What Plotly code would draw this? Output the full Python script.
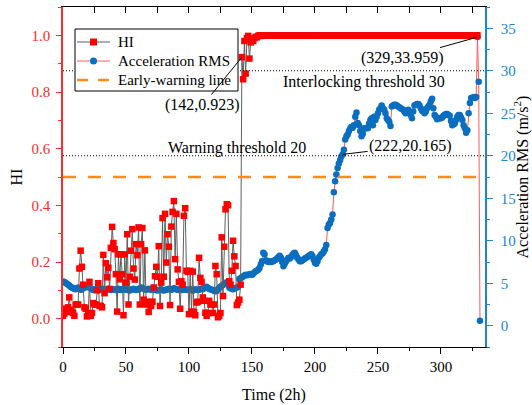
import plotly.graph_objects as go

# ---------------- data ----------------
# Health indicator (HI), one value per time step (2 h per step)
hi_values = [
    0.010, 0.018, 0.035, 0.024, 0.040, 0.075, 0.031, 0.024, 0.020, 0.010,
    0.050, 0.050, 0.050, 0.177, 0.240, 0.183, 0.120, 0.040, 0.035, 0.008,
    0.015, 0.130, 0.010, 0.020, 0.055, 0.050, 0.050, 0.100, 0.125, 0.045,
    0.045, 0.040, 0.225, 0.090, 0.196, 0.146, 0.180, 0.105, 0.250, 0.324,
    0.267, 0.245, 0.157, 0.025, 0.227, 0.139, 0.227, 0.157, 0.012, 0.227,
    0.127, 0.298, 0.050, 0.148, 0.240, 0.316, 0.177, 0.138, 0.263, 0.224,
    0.322, 0.050, 0.263, 0.320, 0.067, 0.241, 0.050, 0.060, 0.024, 0.050,
    0.045, 0.060, 0.110, 0.150, 0.183, 0.148, 0.256, 0.045, 0.127, 0.355,
    0.148, 0.370, 0.198, 0.298, 0.254, 0.048, 0.325, 0.377, 0.415, 0.210,
    0.370, 0.174, 0.130, 0.035, 0.132, 0.120, 0.363, 0.390, 0.169, 0.165,
    0.016, 0.169, 0.025, 0.166, 0.024, 0.012, 0.057, 0.060, 0.215, 0.144,
    0.130, 0.075, 0.063, 0.021, 0.010, 0.020, 0.063, 0.050, 0.050, 0.020,
    0.050, 0.186, 0.157, 0.005, 0.010, 0.020, 0.287, 0.080, 0.254, 0.386,
    0.404, 0.400, 0.132, 0.120, 0.169, 0.275, 0.220, 0.186, 0.048, 0.057,
    0.067, 0.120, 0.923, 0.845, 0.980, 0.865, 0.990, 0.998, 0.918, 0.975,
    0.985, 0.980, 0.990, 0.995, 0.993, 0.998, 1.000, 0.998, 1.000, 1.000,
    1.000, 1.000, 1.000, 1.000, 1.000, 1.000, 1.000, 1.000, 1.000, 1.000,
    1.000, 1.000, 1.000, 1.000, 1.000, 1.000, 1.000, 1.000, 1.000, 1.000,
    1.000, 1.000, 1.000, 1.000, 1.000, 1.000, 1.000, 1.000, 1.000, 1.000,
    1.000, 1.000, 1.000, 1.000, 1.000, 1.000, 1.000, 1.000, 1.000, 1.000,
    1.000, 1.000, 0.999, 1.000, 1.000, 1.000, 1.000, 1.000, 1.000, 1.000,
    1.000, 1.000, 1.000, 1.000, 1.000, 1.000, 1.000, 1.000, 1.000, 1.000,
    1.000, 1.000, 1.000, 1.000, 1.000, 1.000, 1.000, 1.000, 1.000, 1.000,
    1.000, 1.000, 1.000, 1.000, 1.000, 1.000, 1.000, 1.000, 1.000, 1.000,
    1.000, 1.000, 1.000, 1.000, 1.000, 1.000, 1.000, 1.000, 1.000, 1.000,
    1.000, 1.000, 1.000, 1.000, 1.000, 1.000, 1.000, 1.000, 1.000, 1.000,
    1.000, 1.000, 1.000, 1.000, 1.000, 1.000, 1.000, 1.000, 1.000, 1.000,
    1.000, 1.000, 1.000, 1.000, 1.000, 1.000, 1.000, 1.000, 1.000, 1.000,
    1.000, 1.000, 1.000, 1.000, 1.000, 1.000, 1.000, 1.000, 1.000, 1.000,
    1.000, 1.000, 1.000, 1.000, 1.000, 1.000, 1.000, 1.000, 1.000, 1.000,
    1.000, 1.000, 1.000, 1.000, 1.000, 1.000, 1.000, 1.000, 1.000, 1.000,
    1.000, 1.000, 1.000, 1.000, 1.000, 1.000, 1.000, 1.000, 1.000, 1.000,
    1.000, 1.000, 1.000, 1.000, 1.000, 1.000, 1.000, 1.000, 1.000, 1.000,
]
hi_time = list(range(len(hi_values)))

# Acceleration RMS (m/s^2), one value per time step
acc_values = [
    5.20, 5.15, 5.05, 4.95, 4.85, 4.75, 4.60, 4.50, 4.40, 4.35,
    4.30, 4.40, 4.50, 4.35, 4.25, 4.30, 4.45, 4.60, 4.50, 4.55,
    4.70, 4.60, 4.40, 4.30, 4.20, 4.25, 4.30, 4.20, 4.25, 4.30,
    4.25, 4.30, 4.35, 4.30, 4.25, 4.30, 4.35, 4.30, 4.20, 4.25,
    4.30, 4.25, 4.20, 4.30, 4.35, 4.25, 4.20, 4.30, 4.35, 4.30,
    4.25, 4.30, 4.20, 4.15, 4.25, 4.30, 4.35, 4.30, 4.20, 4.25,
    4.30, 4.40, 4.50, 4.45, 4.35, 4.30, 4.25, 4.30, 4.35, 4.30,
    4.25, 4.20, 4.30, 4.25, 4.20, 4.15, 4.20, 4.25, 4.30, 4.20,
    4.15, 4.20, 4.25, 4.30, 4.35, 4.30, 4.25, 4.30, 4.40, 4.35,
    4.30, 4.25, 4.20, 4.30, 4.25, 4.20, 4.25, 4.30, 4.25, 4.20,
    4.25, 4.30, 4.20, 4.15, 4.20, 4.30, 4.25, 4.20, 4.25, 4.30,
    4.35, 4.30, 4.40, 4.50, 4.60, 4.45, 4.35, 4.30, 4.25, 4.20,
    4.10, 4.05, 4.10, 4.30, 4.45, 4.60, 4.70, 4.80, 4.95, 5.05,
    5.10, 4.90, 4.50, 4.40, 4.35, 4.30, 4.40, 4.45, 4.50, 4.60,
    5.50, 5.60, 5.70, 5.80, 5.90, 6.00, 5.95, 6.00, 6.05, 6.10,
    6.00, 6.10, 6.30, 6.40, 6.50, 6.60, 6.80, 7.20, 7.60, 8.60,
    8.40, 7.70, 7.60, 7.50, 7.60, 7.50, 7.55, 7.60, 7.70, 7.80,
    7.90, 8.10, 8.25, 8.00, 7.50, 7.00, 7.30, 7.60, 7.80, 8.00,
    7.90, 8.10, 8.30, 8.50, 8.60, 8.30, 8.00, 7.80, 7.60, 7.60,
    7.70, 7.80, 7.90, 8.00, 8.10, 8.20, 8.30, 8.40, 8.20, 7.80,
    7.40, 7.30, 7.60, 8.00, 8.20, 8.40, 8.50, 8.75, 9.00, 9.50,
    11.50, 11.90, 12.10, 12.50, 13.10, 15.70, 17.00, 17.80, 18.55, 19.10,
    19.50, 19.90, 20.165, 20.70, 21.90, 22.30, 22.50, 22.90, 23.20, 23.40,
    23.30, 23.60, 24.60, 25.10, 23.85, 23.60, 22.90, 22.30, 22.60, 23.25,
    23.20, 23.30, 23.25, 23.80, 24.20, 24.40, 23.60, 24.60, 24.20, 24.60,
    25.00, 25.40, 25.60, 25.90, 25.60, 25.40, 25.00, 24.40, 24.20, 24.00,
    23.50, 25.80, 25.90, 26.00, 26.00, 25.90, 25.80, 25.70, 25.60, 25.50,
    25.40, 25.20, 25.00, 25.20, 25.40, 25.00, 24.80, 24.40, 25.20, 25.90,
    26.00, 26.10, 26.10, 25.90, 25.60, 25.30, 25.20, 25.00, 25.20, 25.60,
    25.80, 26.00, 26.40, 26.70, 25.60, 24.80, 24.60, 24.30, 24.40, 24.40,
    24.40, 24.50, 24.70, 24.80, 24.90, 24.90, 24.80, 24.70, 24.10, 23.60,
    23.70, 23.80, 24.20, 24.60, 24.80, 24.80, 24.50, 24.20, 23.60, 23.25,
    22.70, 23.00, 25.00, 26.20, 26.80, 26.80, 26.90, 26.80, 26.90, 33.959,
    28.70, 0.60,
]
acc_time = list(range(len(acc_values)))

early_warning_level = 0.5      # HI
warning_threshold = 20         # m/s^2
interlock_threshold = 30       # m/s^2

# labelled points: (time, value)
hi_mark = (142, 0.923)
acc_mark_warn = (222, 20.165)
acc_mark_peak = (329, 33.959)

# ---------------- styling ----------------
FONT = "Liberation Serif"
RED = "#FF2A2A"
BLUE = "#0A6EC0"
AXBLUE = "#1B84D4"
HI_LINE = "rgb(95,95,95)"
ACC_LINE = "#FF5A5A"
ORANGE = "#FF8C1A"
EW_DASH = "13px,12px"

W, H = 532, 405
ML, MR, MT, MB = 63, 47, 7, 58
PW, PH = W - ML - MR, H - MT - MB


def px_x(px):
    """pixel column -> paper x"""
    return (px - ML) / PW


def px_y(py):
    """pixel row -> paper y"""
    return (H - MB - py) / PH


fig = go.Figure()

fig.add_trace(go.Scatter(
    x=hi_time, y=hi_values, name="HI", yaxis="y2",
    mode="lines+markers",
    line=dict(color=HI_LINE, width=1),
    marker=dict(symbol="square", size=6.5, color="#FF0000", line=dict(width=0)),
))
fig.add_trace(go.Scatter(
    x=acc_time, y=acc_values, name="Acceleration RMS", yaxis="y",
    mode="lines+markers",
    line=dict(color=ACC_LINE, width=1),
    marker=dict(symbol="circle", size=6.5, color=BLUE, line=dict(width=0)),
))
fig.add_trace(go.Scatter(
    x=[acc_time[0], acc_time[-1]], y=[early_warning_level] * 2,
    name="Early-warning line", xaxis="x2", yaxis="y2",
    mode="lines", line=dict(color=ORANGE, width=2.6, dash=EW_DASH),
    hoverinfo="skip",
))

# threshold lines on the acceleration axis
for lvl in (warning_threshold, interlock_threshold):
    fig.add_shape(type="line", xref="paper", x0=0, x1=1, yref="y", y0=lvl, y1=lvl,
                  line=dict(color="black", width=1, dash="1px,2px"), layer="above")

txt = dict(family=FONT, size=16, color="black")
fig.add_annotation(x=239, y=28.7, xref="x", yref="y",
                   text="Interlocking threshold 30", showarrow=False, font=txt,
                   yanchor="middle")
fig.add_annotation(x=138, y=20.9, xref="x", yref="y",
                   text="Warning threshold 20", showarrow=False, font=txt,
                   yanchor="middle")

arrow = dict(showarrow=True, arrowhead=0, arrowwidth=1, arrowcolor="black",
             font=txt, standoff=0)
fig.add_annotation(x=hi_mark[0], y=hi_mark[1], xref="x", yref="y2",
                   text=f"({hi_mark[0]},{hi_mark[1]})", ax=-39, ay=48, **arrow)
fig.add_annotation(x=acc_mark_warn[0], y=acc_mark_warn[1], xref="x", yref="y",
                   text=f"({acc_mark_warn[0]},{acc_mark_warn[1]})", ax=68, ay=-8, **arrow)
fig.add_annotation(x=acc_mark_peak[0], y=acc_mark_peak[1], xref="x", yref="y",
                   text=f"({acc_mark_peak[0]},{acc_mark_peak[1]})", ax=-75, ay=21, **arrow)

# ---------------- legend box ----------------
leg_left, leg_right, leg_top, leg_bottom = 75, 238, 29, 91
leg_rows = [42, 61, 80]
sym_x0, sym_x1, txt_x = 77, 110, 116
sym_mid = (sym_x0 + sym_x1) / 2

fig.add_shape(type="rect", xref="paper", yref="paper",
              x0=px_x(leg_left), x1=px_x(leg_right),
              y0=px_y(leg_bottom), y1=px_y(leg_top),
              line=dict(color="black", width=1), fillcolor="white", layer="above")

legend_items = [
    ("HI", HI_LINE, 1, None, "square", "#FF0000"),
    ("Acceleration RMS", ACC_LINE, 1, None, "circle", BLUE),
    ("Early-warning line", ORANGE, 2.6, "11px,10px", None, None),
]
for row, (label, lcol, lw, ldash, msym, mcol) in zip(leg_rows, legend_items):
    fig.add_shape(type="line", xref="paper", yref="paper",
                  x0=px_x(sym_x0), x1=px_x(sym_x1), y0=px_y(row), y1=px_y(row),
                  line=dict(color=lcol, width=lw, dash=ldash or "solid"), layer="above")
    if msym:
        fig.add_shape(type="rect" if msym == "square" else "circle",
                      xref="paper", yref="paper", xsizemode="pixel", ysizemode="pixel",
                      xanchor=px_x(sym_mid), yanchor=px_y(row),
                      x0=-3.5, x1=3.5, y0=-3.5, y1=3.5,
                      fillcolor=mcol, line=dict(width=0), layer="above")
    fig.add_annotation(x=px_x(txt_x), y=px_y(row), xref="paper", yref="paper",
                       text=label, showarrow=False, xanchor="left", yanchor="middle",
                       font=dict(family=FONT, size=15, color="black"))

tickfont = dict(family=FONT, size=15)
fig.update_layout(
    width=W, height=H,
    margin=dict(l=ML, r=MR, t=MT, b=MB, autoexpand=False),
    paper_bgcolor="white", plot_bgcolor="white",
    font=dict(family=FONT, size=15, color="black"),
    showlegend=False,
    xaxis=dict(
        range=[0, 335], dtick=50, tick0=0, showgrid=False, zeroline=False,
        showline=True, linecolor="black", linewidth=1, automargin=False,
        ticks="outside", ticklen=6, tickcolor="black",
        minor=dict(dtick=25, ticks="outside", ticklen=3, tickcolor="black"),
        tickfont=tickfont, ticklabelstandoff=0,
        title=dict(text="Time (2h)", font=dict(family=FONT, size=16), standoff=14),
    ),
    xaxis2=dict(
        overlaying="x", side="top", matches="x", range=[0, 335],
        dtick=25, tick0=0, showgrid=False, zeroline=False, automargin=False,
        showline=True, linecolor="black", linewidth=1,
        ticks="inside", ticklen=6, tickcolor="black", showticklabels=False,
    ),
    yaxis=dict(
        side="right", range=[-2.5, 37.5], dtick=5, tick0=0,
        showgrid=False, zeroline=False, automargin=False,
        showline=True, linecolor=AXBLUE, linewidth=1.5,
        ticks="outside", ticklen=6, tickcolor=AXBLUE,
        minor=dict(dtick=2.5, ticks="outside", ticklen=3, tickcolor=AXBLUE),
        tickfont=dict(family=FONT, size=15, color=AXBLUE), ticklabelstandoff=5,
        title=dict(text="Acceleration RMS (m/s<sup>2</sup>)",
                   font=dict(family=FONT, size=16, color="black"), standoff=4),
    ),
    yaxis2=dict(
        overlaying="y", side="left", range=[-0.1, 1.1], dtick=0.2, tick0=0,
        tickformat=".1f", showgrid=False, zeroline=False, automargin=False,
        showline=True, linecolor=RED, linewidth=1.5,
        ticks="outside", ticklen=5, tickcolor=RED,
        minor=dict(dtick=0.1, ticks="outside", ticklen=3, tickcolor=RED),
        tickfont=dict(family=FONT, size=15, color=RED), ticklabelstandoff=3,
        title=dict(text="HI", font=dict(family=FONT, size=16, color="black"), standoff=5),
    ),
)

fig.write_html("out.html")
